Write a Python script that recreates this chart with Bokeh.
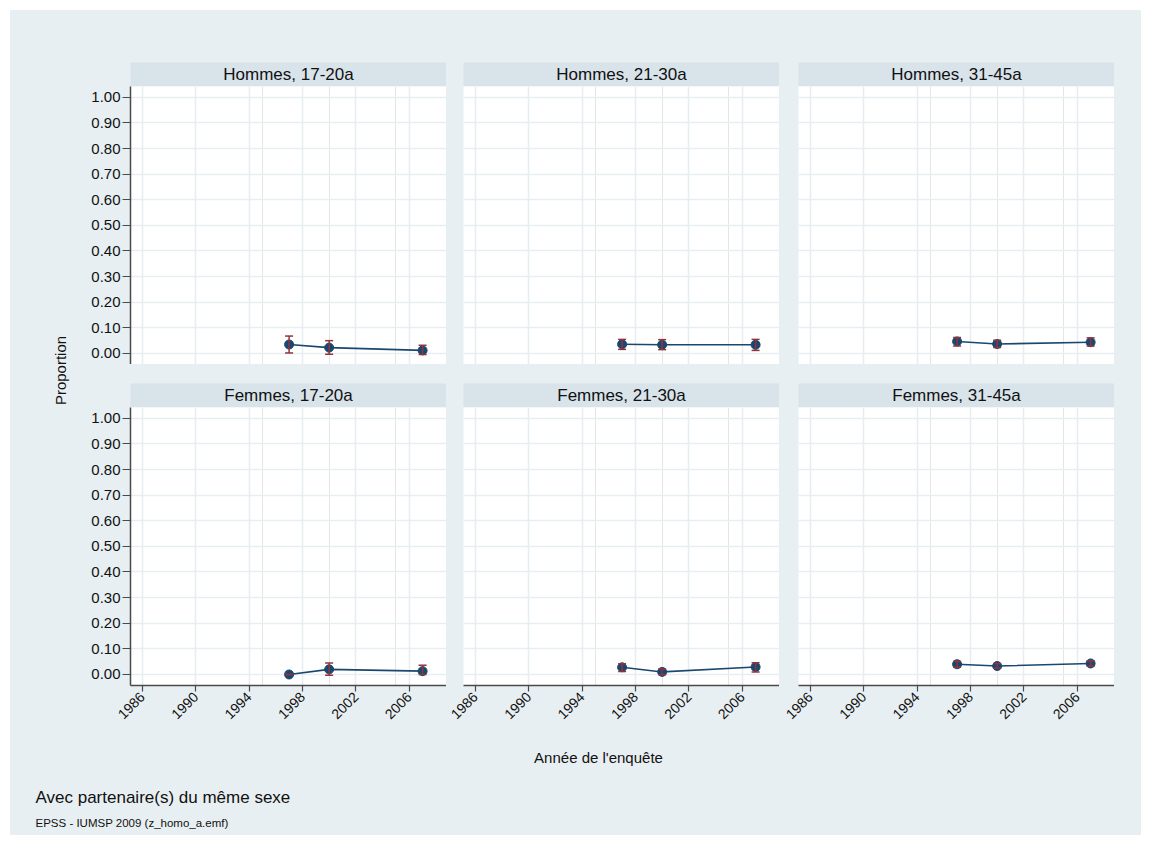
import math
from bokeh.plotting import figure
from bokeh.layouts import column, row
from bokeh.models import (Spacer, Range1d, LinearAxis, FixedTicker, Grid, Whisker,
                          TeeHead, ColumnDataSource, NumeralTickFormatter)
from bokeh.core.properties import value
from bokeh.embed import file_html
from bokeh.resources import INLINE

# ---------------- data ----------------
years = [1997, 2000, 2007]
panel_titles = ["Hommes, 17-20a", "Hommes, 21-30a", "Hommes, 31-45a",
                "Femmes, 17-20a", "Femmes, 21-30a", "Femmes, 31-45a"]
h1720_p = [0.035, 0.023, 0.012]
h1720_lo = [0.002, -0.003, -0.004]
h1720_hi = [0.068, 0.050, 0.032]
h2130_p = [0.036, 0.034, 0.034]
h2130_lo = [0.016, 0.015, 0.012]
h2130_hi = [0.055, 0.054, 0.055]
h3145_p = [0.047, 0.037, 0.044]
h3145_lo = [0.029, 0.023, 0.029]
h3145_hi = [0.062, 0.052, 0.061]
f1720_p = [0.000, 0.020, 0.013]
f1720_lo = [0.000, -0.003, 0.000]
f1720_hi = [0.000, 0.045, 0.036]
f2130_p = [0.028, 0.010, 0.029]
f2130_lo = [0.012, -0.001, 0.010]
f2130_hi = [0.042, 0.021, 0.046]
f3145_p = [0.040, 0.033, 0.043]
f3145_lo = [0.028, 0.024, 0.032]
f3145_hi = [0.052, 0.043, 0.054]
x_ticks = [1986, 1990, 1994, 1998, 2002, 2006]
y_ticks = [0.0, 0.1, 0.2, 0.3, 0.4, 0.5, 0.6, 0.7, 0.8, 0.9, 1.0]
y_title = "Proportion"
x_title = "Année de l'enquête"
note1 = "Avec partenaire(s) du même sexe"
note2 = "EPSS - IUMSP 2009 (z_homo_a.emf)"

series = [(h1720_p, h1720_lo, h1720_hi), (h2130_p, h2130_lo, h2130_hi),
          (h3145_p, h3145_lo, h3145_hi), (f1720_p, f1720_lo, f1720_hi),
          (f2130_p, f2130_lo, f2130_hi), (f3145_p, f3145_lo, f3145_hi)]

# ---------------- style ----------------
BG = "#e8eff2"
STRIP = "#d8e3ea"
GRID = "#e6eef1"
NAVY = "#1a476f"
MAROON = "#90353b"
AXIS = "#4a4a4a"
TXT = "#111111"
FONT = "Liberation Sans"

FRAME_W = 316
FRAME_H = 278
LEFT_BORDERS = [50, 17, 19]   # left border of each panel column (axis / gap)
BOTTOM_B = 55
STRIP_H = 24
RIGHT_PAD = 27
PROP_W = 70
TOP_PAD = 52
ROW_GAP = 19
CONTENT_W = 1131
BOTTOM_H = 95


def sp(w, h):
    return Spacer(width=w, height=h, styles={"background-color": BG})


def strip_fig(title, col):
    lb = LEFT_BORDERS[col]
    f = figure(width=FRAME_W + lb, height=STRIP_H, output_backend="svg",
               toolbar_location=None, x_range=Range1d(0, 1), y_range=Range1d(0, 1),
               x_axis_location=None, y_axis_location=None)
    f.min_border = 0
    f.min_border_left = lb
    f.border_fill_color = BG
    f.background_fill_color = STRIP
    f.outline_line_color = None
    f.grid.visible = False
    f.text(x=[0.5], y=[0.5], text=[title], text_align="center", text_baseline="middle",
           text_font=value(FONT), text_font_size="17px", text_color=TXT)
    return f


def panel_fig(idx, col, bottom):
    p_, lo, hi = series[idx]
    lb = LEFT_BORDERS[col]
    h = FRAME_H + (BOTTOM_B if bottom else 0)
    f = figure(width=FRAME_W + lb, height=h, output_backend="svg", toolbar_location=None,
               x_range=Range1d(1985.12, 2008.79), y_range=Range1d(-0.043, 1.042),
               x_axis_location=None, y_axis_location=None)
    f.min_border = 0
    f.min_border_left = lb
    f.min_border_bottom = BOTTOM_B if bottom else 0
    f.border_fill_color = BG
    f.background_fill_color = "white"
    f.outline_line_color = None
    f.add_layout(Grid(dimension=0, ticker=FixedTicker(ticks=x_ticks),
                      grid_line_color=GRID, grid_line_width=1.6))
    f.add_layout(Grid(dimension=1, ticker=FixedTicker(ticks=y_ticks),
                      grid_line_color=GRID, grid_line_width=1.6))
    if col == 0:
        ya = LinearAxis(ticker=FixedTicker(ticks=y_ticks),
                        formatter=NumeralTickFormatter(format="0.00"))
        ya.axis_line_color = AXIS
        ya.axis_line_width = 1.5
        ya.major_tick_line_color = AXIS
        ya.major_tick_line_width = 1.2
        ya.major_tick_out = 8
        ya.major_tick_in = 0
        ya.minor_tick_out = 0
        ya.minor_tick_in = 0
        ya.major_label_standoff = 2
        ya.major_label_text_font = FONT
        ya.major_label_text_font_size = "15px"
        ya.major_label_text_color = TXT
        f.add_layout(ya, "left")
    if bottom:
        xa = LinearAxis(ticker=FixedTicker(ticks=x_ticks))
        xa.axis_line_color = AXIS
        xa.axis_line_width = 1.5
        xa.major_tick_line_color = AXIS
        xa.major_tick_line_width = 1.2
        xa.major_tick_out = 6
        xa.major_tick_in = 0
        xa.minor_tick_out = 0
        xa.minor_tick_in = 0
        xa.major_label_standoff = 3
        xa.major_label_orientation = math.pi / 4
        xa.major_label_text_font = FONT
        xa.major_label_text_font_size = "14px"
        xa.major_label_text_color = TXT
        f.add_layout(xa, "below")
    src = ColumnDataSource(dict(x=years, y=p_, lo=lo, hi=hi))
    f.line("x", "y", source=src, line_color=NAVY, line_width=1.6)
    f.scatter("x", "y", source=src, size=9, fill_color=NAVY, line_color=NAVY)
    wh = Whisker(base="x", lower="lo", upper="hi", source=src, level="overlay",
                 line_color=MAROON, line_width=1.5,
                 lower_head=TeeHead(size=8, line_color=MAROON, line_width=1.5),
                 upper_head=TeeHead(size=8, line_color=MAROON, line_width=1.5))
    f.add_layout(wh)
    return f


def strip_row(offset):
    return row(strip_fig(panel_titles[offset], 0),
               strip_fig(panel_titles[offset + 1], 1),
               strip_fig(panel_titles[offset + 2], 2), sp(RIGHT_PAD, STRIP_H),
               styles={"background-color": BG})


def plot_row(offset, bottom):
    h = FRAME_H + (BOTTOM_B if bottom else 0)
    return row(panel_fig(offset, 0, bottom),
               panel_fig(offset + 1, 1, bottom),
               panel_fig(offset + 2, 2, bottom), sp(RIGHT_PAD, h),
               styles={"background-color": BG})


grid_col = column(strip_row(0), plot_row(0, False), sp(CONTENT_W - PROP_W, ROW_GAP),
                  strip_row(3), plot_row(3, True), styles={"background-color": BG})
GRID_H = STRIP_H * 2 + FRAME_H * 2 + ROW_GAP + BOTTOM_B

prop = figure(width=PROP_W, height=GRID_H, output_backend="svg", toolbar_location=None,
              x_range=Range1d(0, PROP_W), y_range=Range1d(0, GRID_H),
              x_axis_location=None, y_axis_location=None)
prop.min_border = 0
prop.border_fill_color = BG
prop.background_fill_color = BG
prop.outline_line_color = None
prop.grid.visible = False
prop.text(x=[50], y=[GRID_H - 308], text=[y_title], angle=math.pi / 2,
          text_align="center", text_baseline="middle",
          text_font=value(FONT), text_font_size="15px", text_color=TXT)

bot = figure(width=CONTENT_W, height=BOTTOM_H, output_backend="svg", toolbar_location=None,
             x_range=Range1d(0, CONTENT_W), y_range=Range1d(0, BOTTOM_H),
             x_axis_location=None, y_axis_location=None)
bot.min_border = 0
bot.border_fill_color = BG
bot.background_fill_color = BG
bot.outline_line_color = None
bot.grid.visible = False
bot.text(x=[588], y=[BOTTOM_H - 17], text=[x_title], text_align="center",
         text_baseline="middle", text_font=value(FONT), text_font_size="15px",
         text_color=TXT)
bot.text(x=[25], y=[BOTTOM_H - 57], text=[note1], text_align="left",
         text_baseline="middle", text_font=value(FONT), text_font_size="17px",
         text_color=TXT)
bot.text(x=[25], y=[BOTTOM_H - 82], text=[note2], text_align="left",
         text_baseline="middle", text_font=value(FONT), text_font_size="11.5px",
         text_color=TXT)

content = column(sp(CONTENT_W, TOP_PAD), row(prop, grid_col, styles={"background-color": BG}),
                 bot, styles={"background-color": BG})
root = column(Spacer(width=CONTENT_W + 10, height=10), row(Spacer(width=10, height=10), content))

open("out.html", "w").write(file_html(root, INLINE))
